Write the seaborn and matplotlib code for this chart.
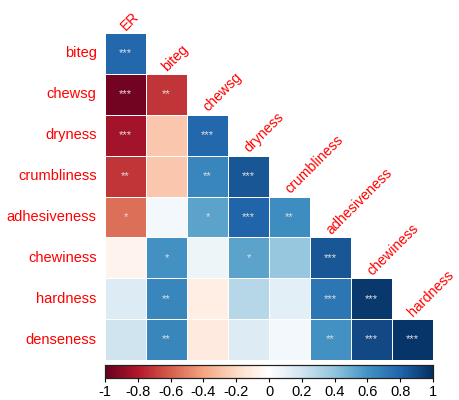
import numpy as np
import pandas as pd
import matplotlib
matplotlib.use("Agg")
import matplotlib.pyplot as plt
from matplotlib.colors import LinearSegmentedColormap
import seaborn as sns

# Variable names
col_vars = ["ER", "biteg", "chewsg", "dryness", "crumbliness",
            "adhesiveness", "chewiness", "hardness"]
row_vars = ["biteg", "chewsg", "dryness", "crumbliness", "adhesiveness",
            "chewiness", "hardness", "denseness"]

# Lower-triangle correlation coefficients, one list per row
r_biteg = [0.78]
r_chewsg = [-0.97, -0.72]
r_dryness = [-0.84, -0.28, 0.78]
r_crumbliness = [-0.72, -0.28, 0.65, 0.85]
r_adhesiveness = [-0.55, 0.05, 0.53, 0.80, 0.62]
r_chewiness = [-0.07, 0.60, 0.07, 0.53, 0.38, 0.85]
r_hardness = [0.15, 0.65, -0.10, 0.28, 0.13, 0.72, 0.96]
r_denseness = [0.20, 0.65, -0.12, 0.15, 0.05, 0.60, 0.90, 0.97]

# Significance stars per cell
s_biteg = ["***"]
s_chewsg = ["***", "**"]
s_dryness = ["***", "", "***"]
s_crumbliness = ["**", "", "**", "***"]
s_adhesiveness = ["*", "", "*", "***", "**"]
s_chewiness = ["", "*", "", "*", "", "***"]
s_hardness = ["", "**", "", "", "", "***", "***"]
s_denseness = ["", "**", "", "", "", "**", "***", "***"]

cbar_ticks = [-1, -0.8, -0.6, -0.4, -0.2, 0, 0.2, 0.4, 0.6, 0.8, 1]

rows_r = [r_biteg, r_chewsg, r_dryness, r_crumbliness, r_adhesiveness,
          r_chewiness, r_hardness, r_denseness]
rows_s = [s_biteg, s_chewsg, s_dryness, s_crumbliness, s_adhesiveness,
          s_chewiness, s_hardness, s_denseness]

n = len(row_vars)
vals = np.full((n, n), np.nan)
stars = np.full((n, n), "", dtype=object)
for i, (rv, sv) in enumerate(zip(rows_r, rows_s)):
    vals[i, :len(rv)] = rv
    stars[i, :len(sv)] = sv

df = pd.DataFrame(vals, index=row_vars, columns=col_vars)
mask = np.isnan(vals)

cmap = LinearSegmentedColormap.from_list(
    "rdbu2",
    ["#67001F", "#B2182B", "#D6604D", "#F4A582", "#FDDBC7", "#FFFFFF",
     "#D1E5F0", "#92C5DE", "#4393C3", "#2166AC", "#053061"], N=200)

plt.rcParams["font.family"] = ["Liberation Sans", "DejaVu Sans"]

fig = plt.figure(figsize=(4.59, 4.0), dpi=100)
W, H = 459, 400
ax = fig.add_axes([105 / W, 1 - 360 / H, 328 / W, 327 / H])
cax = fig.add_axes([105 / W, 1 - 378 / H, 328 / W, 13 / H])

sns.heatmap(df, mask=mask, cmap=cmap, vmin=-1, vmax=1, ax=ax,
            cbar_ax=cax, cbar_kws={"orientation": "horizontal",
                                   "ticks": cbar_ticks},
            linewidths=0.6, linecolor="white",
            annot=stars, fmt="", annot_kws={"color": "#e0e0e0",
                                             "fontsize": 8})

ax.set_xticks([])
ax.set_xlabel("")
ax.set_ylabel("")
ax.tick_params(axis="y", length=0, pad=6)
ax.set_yticklabels(row_vars, rotation=0, color="red", fontsize=10.5)

# Diagonal column labels above each column's top cell
for j, name in enumerate(col_vars):
    ax.text(j + 0.52, j - 0.06, name, rotation=45, rotation_mode="anchor",
            ha="left", va="baseline", color="red", fontsize=10.2)

cax.set_xticklabels([f"{t:g}" for t in cbar_ticks], fontsize=10.5)
cax.tick_params(axis="x", length=3, width=0.8, pad=2)
for sp in cax.spines.values():
    sp.set_visible(True)
    sp.set_color("#222222")
    sp.set_linewidth(0.8)

fig.savefig("out.png", dpi=100)
